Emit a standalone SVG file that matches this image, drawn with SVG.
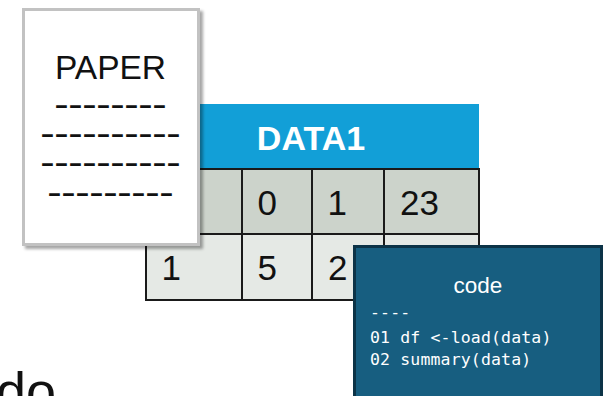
<svg xmlns="http://www.w3.org/2000/svg" width="607" height="396" viewBox="0 0 607 396">
  <defs>
    <filter id="paperShadow" x="-10%" y="-10%" width="125%" height="125%">
      <feDropShadow dx="3" dy="3" stdDeviation="1.5" flood-color="#000" flood-opacity="0.35"/>
    </filter>
    <style>
      .sans { font-family: "Liberation Sans", Arial, sans-serif; }
      .mono { font-family: "DejaVu Sans Mono", "Liberation Mono", monospace; }
      .grid { stroke: #1a1a1a; stroke-width: 2; fill: none; }
      .cell { font-size: 35px; fill: #111; }
      .dash { font-size: 24.5px; font-weight: bold; fill: #111; text-anchor: middle; }
      .codeline { font-size: 16.5px; fill: #ffffff; letter-spacing: 0.15px; }
    </style>
  </defs>

  <!-- large caption fragment at the bottom left -->
  <g id="caption">
    <text class="sans" x="-4" y="410" font-size="54" fill="#111">do</text>
  </g>

  <!-- DATA1 table -->
  <g id="data1">
    <rect x="146" y="104" width="333" height="65" fill="#129fd7"/>
    <rect x="146" y="169" width="333" height="65" fill="#ccd3cb"/>
    <rect x="146" y="234" width="333" height="66" fill="#e5e9e5"/>
    <path class="grid" d="M146 169 H479 V300 H146 Z M146 234 H479 M242 169 V300 M312 169 V300 M384 169 V300"/>
    <text class="sans" x="311" y="150" font-size="34" font-weight="bold" fill="#ffffff" text-anchor="middle">DATA1</text>
    <text class="sans cell" x="257.5" y="215">0</text>
    <text class="sans cell" x="327.5" y="215">1</text>
    <text class="sans cell" x="400" y="215">23</text>
    <text class="sans cell" x="161.5" y="280">1</text>
    <text class="sans cell" x="257.5" y="280">5</text>
    <text class="sans cell" x="328" y="280">2</text>
  </g>

  <!-- sheet of paper with ruled dash lines -->
  <g id="paper">
    <rect x="23.5" y="9.5" width="175" height="235" fill="#ffffff" stroke="#c2c2c2" stroke-width="3" filter="url(#paperShadow)"/>
    <text class="sans" x="110.5" y="79" font-size="33.5" fill="#111" text-anchor="middle">PAPER</text>
    <text class="sans dash" transform="translate(110.5 113) scale(1.715 1)">--------</text>
    <text class="sans dash" transform="translate(110.5 142) scale(1.715 1)">----------</text>
    <text class="sans dash" transform="translate(110.5 171) scale(1.715 1)">----------</text>
    <text class="sans dash" transform="translate(110.5 201) scale(1.715 1)">---------</text>
  </g>

  <!-- code panel -->
  <g id="code">
    <rect x="354.5" y="246.5" width="247" height="160" fill="#175e80" stroke="#0c3347" stroke-width="3"/>
    <text class="sans" x="478" y="293" font-size="22.5" fill="#ffffff" text-anchor="middle">code</text>
    <text class="mono codeline" x="370" y="318">----</text>
    <text class="mono codeline" x="370" y="343">01 df &lt;-load(data)</text>
    <text class="mono codeline" x="370" y="365">02 summary(data)</text>
  </g>

  <g id="connectors"/>
</svg>
